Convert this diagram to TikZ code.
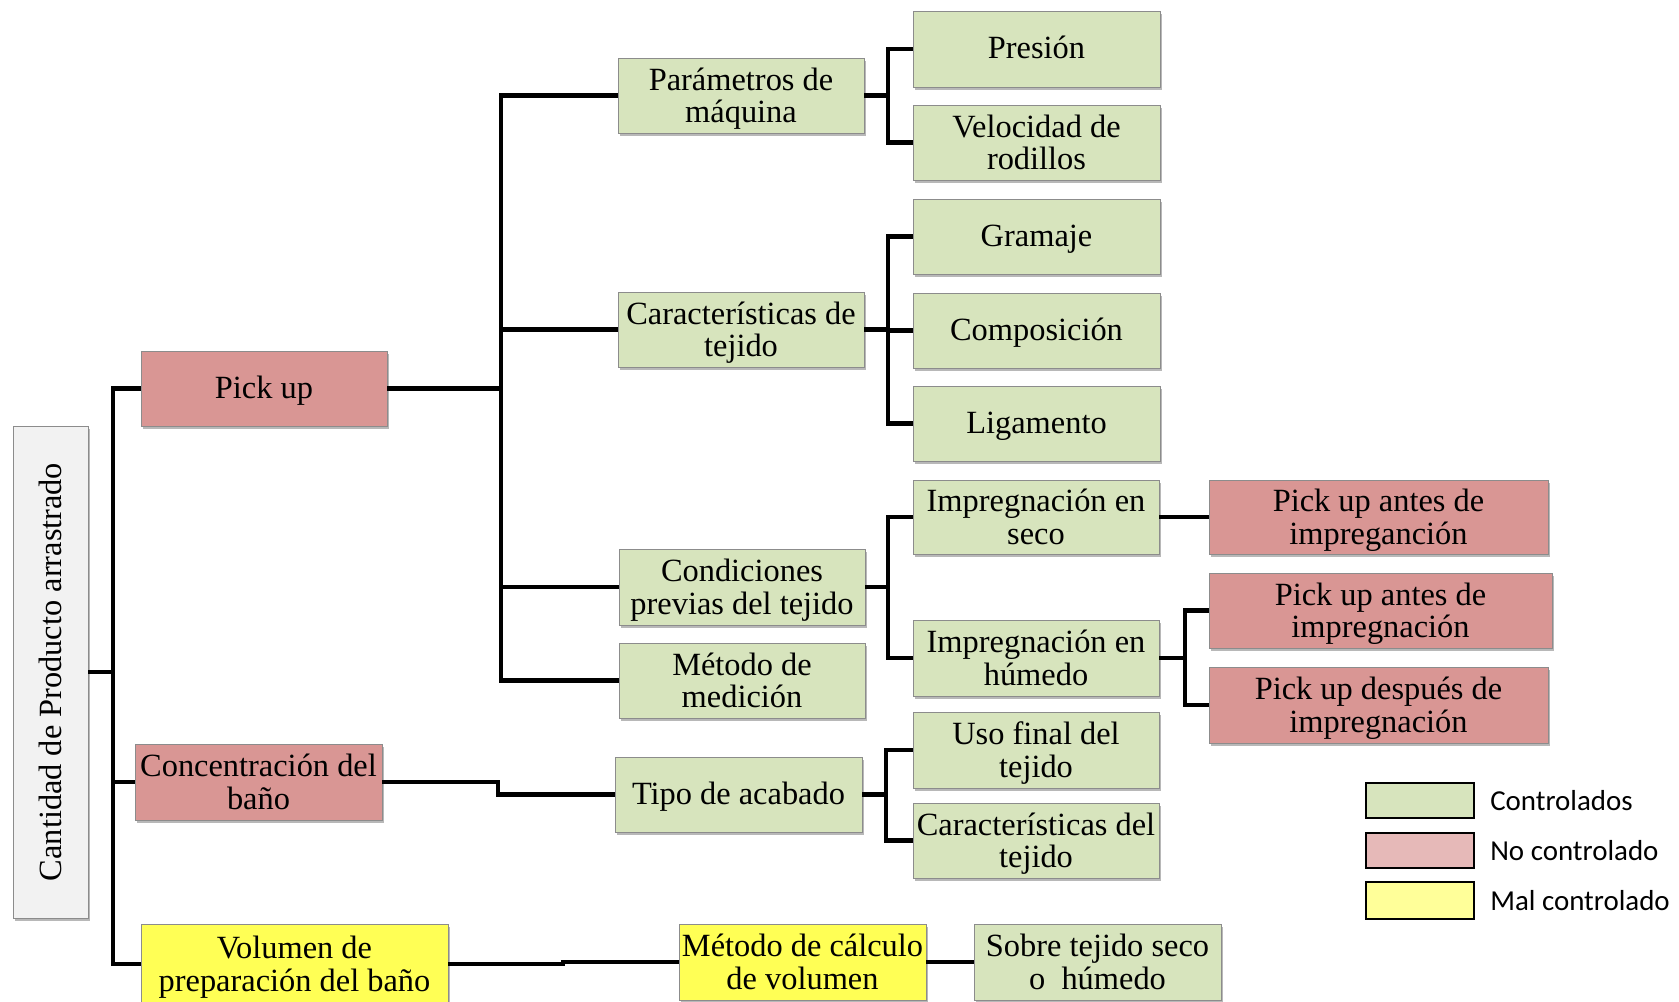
\documentclass[tikz,border=0pt]{standalone}
\usepackage{fontspec}
\setmainfont{Liberation Serif}
\newfontfamily\legfont{Carlito}
\usetikzlibrary{shadows}
\definecolor{gbox}{HTML}{D7E4BD}
\definecolor{rbox}{HTML}{D99694}
\definecolor{ybox}{HTML}{FFFF55}
\definecolor{rootbox}{HTML}{F2F2F2}
\definecolor{lgreen}{HTML}{D7E4BD}
\definecolor{lred}{HTML}{E6B9B8}
\definecolor{lyellow}{HTML}{FFFF99}
\begin{document}
\begin{tikzpicture}[x=0.75pt,y=-0.75pt,
  sz/.style 2 args={minimum width=#1*0.75pt, minimum height=#2*0.75pt},
  base/.style={rectangle, inner sep=0pt, align=center,
    font=\fontsize{24.3}{24.6}\selectfont, draw=black!45, line width=0.6pt,
    drop shadow={shadow xshift=1.2pt, shadow yshift=-2.2pt, opacity=0.28, fill=black}},
  txt/.style={execute at begin node={\rule{0pt}{20pt}},
    execute at end node={\rule[-5.4pt]{0pt}{0pt}}},
  ml/.style={execute at begin node={\rule{0pt}{46.4pt}}},
  gb/.style={base, txt, fill=gbox},
  rb/.style={base, txt, fill=rbox},
  yb/.style={base, txt, fill=ybox},
  rootb/.style={base, fill=rootbox},
  legbox/.style={rectangle, draw=black, line width=1.1pt, inner sep=0pt},
  legtext/.style={anchor=west, inner sep=0pt, font=\legfont\fontsize{21.7}{24}\selectfont},
  conn/.style={line width=3.5pt, line join=miter, line cap=butt}
]
\useasboundingbox (0,0) rectangle (1679,1002);

% level 0
\node[rootb, sz={75}{492}] (root) at (50.5,672) {\rotatebox{90}{Cantidad de Producto arrastrado}};
% level 1
\node[rb, sz={246}{75}] (pick) at (264,388.5) {Pick up};
\node[rb, ml, sz={247}{76}] (conc) at (258.5,782) {Concentración del\\baño};
\node[yb, ml, sz={307}{80}] (vol) at (294.5,964) {Volumen de\\preparación del baño};
% level 2
\node[gb, ml, sz={246}{75}] (param) at (741,95.5) {Parámetros de\\máquina};
\node[gb, ml, sz={246}{75}] (cart) at (741,329.5) {Características de\\tejido};
\node[gb, ml, sz={246}{76}] (cond) at (742,587) {Condiciones\\previas del tejido};
\node[gb, ml, sz={246}{75}] (med) at (742,680.5) {Método de\\medición};
\node[gb, sz={247}{75}] (tipo) at (738.5,794.5) {Tipo de acabado};
\node[yb, ml, sz={247}{76}] (calc) at (802.5,962) {Método de cálculo\\de volumen};
% level 3
\node[gb, sz={247}{76}] (pres) at (1036.5,49) {Presión};
\node[gb, ml, sz={247}{75}] (vel) at (1036.5,142.5) {Velocidad de\\rodillos};
\node[gb, sz={247}{75}] (gram) at (1036.5,236.5) {Gramaje};
\node[gb, sz={247}{75}] (comp) at (1036.5,330.5) {Composición};
\node[gb, sz={247}{75}] (lig) at (1036.5,423.5) {Ligamento};
\node[gb, ml, sz={246}{74}] (iseco) at (1036,517) {Impregnación en\\seco};
\node[gb, ml, sz={246}{76}] (ihum) at (1036,658) {Impregnación en\\húmedo};
\node[gb, ml, sz={246}{76}] (uso) at (1036,750) {Uso final del\\tejido};
\node[gb, ml, sz={246}{75}] (cdt) at (1036,840.5) {Características del\\tejido};
\node[gb, ml, sz={247}{76}] (sobre) at (1097.5,962) {Sobre tejido seco\\o\enspace húmedo};
% level 4
\node[rb, ml, sz={339}{74}] (pa1) at (1378.5,517) {Pick up antes de\\impreganción};
\node[rb, ml, sz={343}{75}] (pa2) at (1380.5,610.5) {Pick up antes de\\impregnación};
\node[rb, ml, sz={339}{76}] (pd) at (1378.5,705) {Pick up después de\\impregnación};

% legend
\node[legbox, fill=lgreen, sz={108}{35}] (lg1) at (1420,800.5) {};
\node[legbox, fill=lred, sz={108}{35}] (lg2) at (1420,850.5) {};
\node[legbox, fill=lyellow, sz={108}{37}] (lg3) at (1420,900.5) {};
\node[legtext] (lt1) at (1490,800.5) {Controlados};
\node[legtext] (lt2) at (1490,850.5) {No controlado};
\node[legtext] (lt3) at (1490,900.5) {Mal controlado};

% junction coordinates
\coordinate (tr) at (113,0);
\coordinate (tp) at (501,0);
\coordinate (tc) at (498,0);
\coordinate (tv) at (563,0);
\coordinate (ba) at (888,0);
\coordinate (bt) at (886,0);
\coordinate (bh) at (1185,0);

% connectors
\draw[conn] (root.east) -- (root.east -| tr) |- (pick.west);
\draw[conn] (root.east -| tr) |- (conc.west);
\draw[conn] (root.east -| tr) |- (vol.west);

\draw[conn] (pick.east) -- (pick.east -| tp) |- (param.west);
\draw[conn] (pick.east -| tp) |- (cart.west);
\draw[conn] (pick.east -| tp) |- (cond.west);
\draw[conn] (pick.east -| tp) |- (med.west);

\draw[conn] (conc.east) -- (conc.east -| tc) |- (tipo.west);
\draw[conn] (vol.east) -- (vol.east -| tv) |- (calc.west);
\draw[conn] (calc.east) -- (sobre.west);

\draw[conn] (param.east) -- (param.east -| ba) |- (pres.west);
\draw[conn] (param.east -| ba) |- (vel.west);

\draw[conn] (cart.east) -- (cart.east -| ba) |- (gram.west);
\draw[conn] (cart.east -| ba) |- (comp.west);
\draw[conn] (cart.east -| ba) |- (lig.west);

\draw[conn] (cond.east) -- (cond.east -| ba) |- (iseco.west);
\draw[conn] (cond.east -| ba) |- (ihum.west);

\draw[conn] (iseco.east) -- (pa1.west);
\draw[conn] (ihum.east) -- (ihum.east -| bh) |- (pa2.west);
\draw[conn] (ihum.east -| bh) |- (pd.west);

\draw[conn] (tipo.east) -- (tipo.east -| bt) |- (uso.west);
\draw[conn] (tipo.east -| bt) |- (cdt.west);
\end{tikzpicture}
\end{document}
